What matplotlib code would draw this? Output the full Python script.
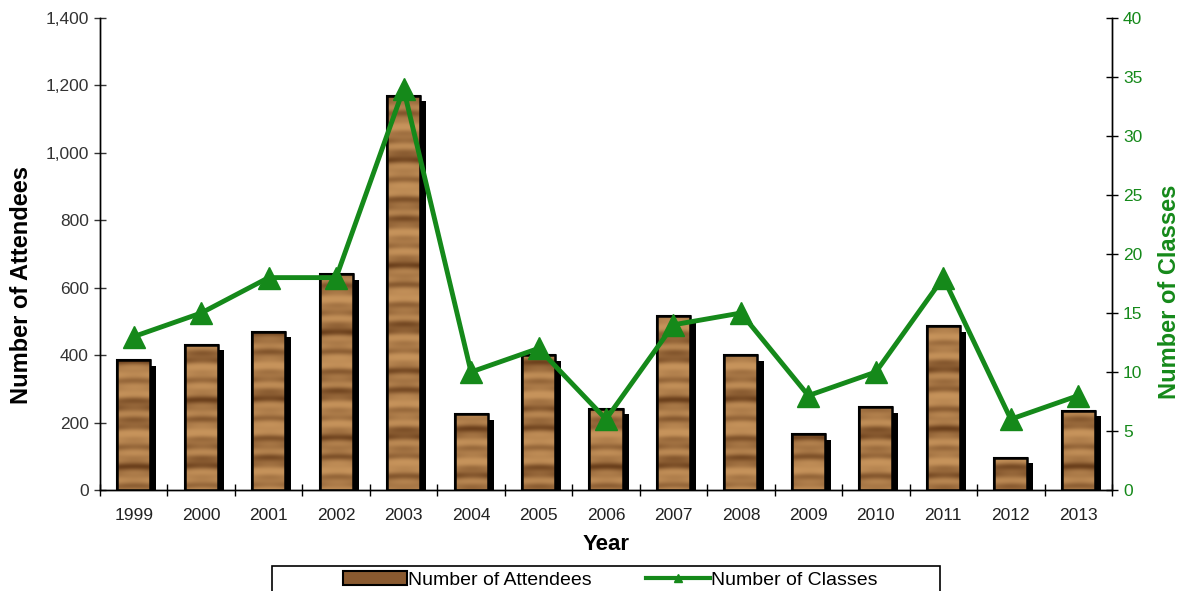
import matplotlib as mpl
mpl.use('Agg')
import matplotlib.pyplot as plt
from matplotlib.patches import Patch, Rectangle
from matplotlib.lines import Line2D
import numpy as np

years = ['1999', '2000', '2001', '2002', '2003', '2004', '2005', '2006',
         '2007', '2008', '2009', '2010', '2011', '2012', '2013']
attendees = [385, 430, 470, 640, 1170, 225, 400, 240, 515, 400, 165, 245, 485, 95, 235]
classes = [13, 15, 18, 18, 34, 10, 12, 6, 14, 15, 8, 10, 18, 6, 8]

GREEN = '#15891a'
plt.rcParams['font.family'] = ['Liberation Sans', 'DejaVu Sans']


def wood_texture(rows=500, cols=12, phase=0.0):
    # deterministic striped wood grain, covers the full y range
    y = np.linspace(0, 1, rows)[:, None]
    x = np.linspace(0, 1, cols)[None, :]
    g = (0.5 * np.sin(y * 140 + phase + 0.6 * np.sin(x * 3)) + 0.35 * np.sin(y * 53 + 1.3 + phase)
         + 0.2 * np.sin(y * 310 + 2.0))
    g = (g - g.min()) / (g.max() - g.min())
    g = g ** 1.6
    light = np.array([0.78, 0.58, 0.36])
    dark = np.array([0.42, 0.25, 0.11])
    return light[None, None, :] * (1 - g[..., None]) + dark[None, None, :] * g[..., None]


fig = plt.figure(figsize=(11.86, 5.91), dpi=100)
ax = fig.add_axes([0.0843, 0.1709, 0.8533, 0.7986])
ax2 = ax.twinx()

x = np.arange(len(years))
w = 0.49

# shadows
ax.bar(x + 0.09, [a - 16 for a in attendees], width=w, color='black', zorder=2)
bars = ax.bar(x, attendees, width=w, color='#a06a38', edgecolor='black', linewidth=1.5, zorder=3)
for i, b in enumerate(bars):
    im = ax.imshow(wood_texture(phase=i * 0.9), extent=[b.get_x(), b.get_x() + b.get_width(), 0, 1400],
                   aspect='auto', zorder=3.5, interpolation='bilinear')
    im.set_clip_path(b)
    ax.add_patch(Rectangle((b.get_x(), 0), b.get_width(), b.get_height(), fill=False,
                           edgecolor='black', linewidth=1.8, zorder=4))

ax.set_xlim(-0.5, len(years) - 0.5)
ax.set_ylim(0, 1400)
ax.set_yticks(range(0, 1401, 200))
ax.set_yticklabels(['{:,}'.format(v) for v in range(0, 1401, 200)])
ax.set_xticks(x)
ax.set_xticklabels(years)
ax.set_xticks(np.arange(-0.5, len(years), 1), minor=True)
ax.tick_params(axis='x', which='major', length=0, labelsize=12.5, colors='#222222', pad=13)
ax.tick_params(axis='x', which='minor', direction='inout', length=9, width=1)
ax.tick_params(axis='y', direction='inout', length=9, width=1, labelsize=12.5, colors='#333333')
ax.set_ylabel('Number of Attendees', fontsize=17, fontweight='bold')
ax.yaxis.set_label_coords(-0.066, 0.434)
ax.set_xlabel('Year', fontsize=16, fontweight='bold', labelpad=8)

ax2.plot(x, classes, '-^', color=GREEN, linewidth=3.5, markersize=16, zorder=5)
ax2.set_ylim(0, 40)
ax2.set_yticks(range(0, 41, 5))
ax2.tick_params(axis='y', direction='inout', length=9, width=1, labelsize=12.5, colors=GREEN)
ax2.tick_params(axis='y', color='black')
ax2.set_ylabel('Number of Classes', fontsize=17, fontweight='bold', color=GREEN)
ax2.yaxis.set_label_coords(1.045, 0.42)

for a in (ax, ax2):
    a.spines['top'].set_visible(False)
    for s in a.spines.values():
        s.set_linewidth(1)

# legend box drawn separately so it can be wider than its contents
fig.patches.append(Rectangle((272 / 1186, -0.01), (940 - 272) / 1186, (591 - 566) / 591 + 0.01,
                             transform=fig.transFigure, fill=False, edgecolor='black',
                             linewidth=1.2))
handles = [Patch(facecolor='#8a5a30', edgecolor='black', linewidth=1.5),
           Line2D([0], [0], color=GREEN, linewidth=3, marker='^', markersize=6)]
fig.legend(handles, ['Number of Attendees', 'Number of Classes'], ncol=2,
           loc='center', bbox_to_anchor=(610 / 1186, 1 - 580 / 591),
           frameon=False, fontsize=14, handlelength=3.3, handletextpad=0.05,
           columnspacing=2.8, borderpad=0, borderaxespad=0)

plt.savefig('out.png', dpi=100)
